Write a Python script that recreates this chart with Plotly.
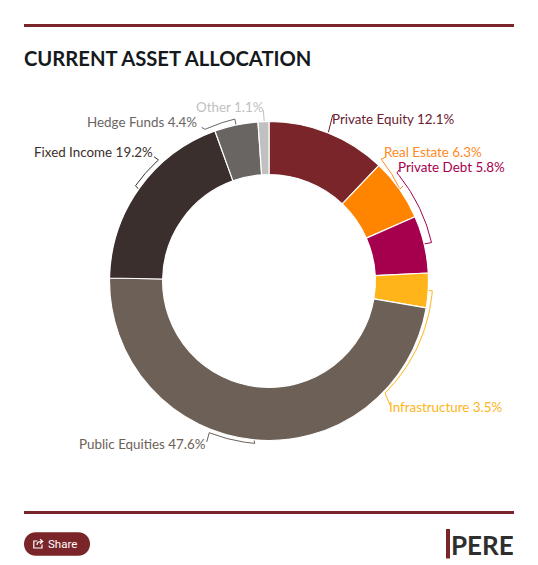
import math
import plotly.graph_objects as go

# Asset allocation shares, in percent, clockwise from twelve o'clock
categories = ["Private Equity", "Real Estate", "Private Debt", "Infrastructure",
              "Public Equities", "Fixed Income", "Hedge Funds", "Other"]
shares = [12.1, 6.3, 5.8, 3.5, 47.6, 19.2, 4.4, 1.1]
colors = ["#7a2529", "#ff8500", "#a5004e", "#ffb41a",
          "#6d6056", "#3a2f2d", "#696563", "#c0c0c0"]
label_colors = ["#6b2030", "#ff8a1f", "#a5004e", "#ffb41a",
                "#6d6056", "#3a2f2d", "#696563", "#c0c0c0"]

W, H = 538, 565
CX, CY, R = 269, 281, 159.5
MAROON = "#7a2529"

# Label anchor (left edge, vertical middle) in page pixels
label_pos = [(332, 119), (384, 152), (398, 167), (389, 407),
             (79, 444), (34, 152), (86.5, 122), (196, 107)]

# Leaders around the ring: points before the arc, start angle and radius,
# end angle and radius, points after the arc
leaders = {
    "Real Estate": ([(386, 157)], 42.6, 165.6, 54.9, 160, [(403, 186)]),
    "Private Debt": ([(399, 170)], 49.8, 167.5, 76.7, 167, [(424, 244)]),
    "Infrastructure": ([(428.3, 290.7)], 93.4, 163.6, 134, 161.3, [(390, 405)]),
    "Public Equities": ([(206.7, 442)], 201.5, 163, 185, 163, [(254, 440)]),
    "Fixed Income": ([(154, 156.7)], 317.6, 164, 305.5, 164, [(139.5, 190)]),
    "Hedge Funds": ([(201.7, 127.3)], 337.1, 164.6, 348.1, 165.5, [(236, 125)]),
    "Private Equity": ([(332.7, 115)], None, None, None, None, [(328.3, 132.7)]),
    "Other": ([(263.3, 110)], None, None, None, None, [(264.3, 122)]),
}


def polar(angle, radius):
    a = math.radians(angle)
    return CX + radius * math.sin(a), CY - radius * math.cos(a)


def leader_points(head, a0, r0, a1, r1, tail):
    """Polyline for a leader, with an arc that follows the ring where one is given."""
    if a0 is None:
        return head + tail
    steps = 24
    arc = [polar(a0 + (a1 - a0) * i / steps, r0 + (r1 - r0) * i / steps) for i in range(steps + 1)]
    return head + arc + tail


fig = go.Figure()

fig.add_trace(go.Pie(
    labels=categories, values=shares, sort=False, direction="clockwise", rotation=0,
    hole=0.667, textinfo="none", showlegend=False,
    marker=dict(colors=colors, line=dict(color="#ffffff", width=1.2)),
    domain=dict(x=[(CX - R) / W, (CX + R) / W], y=[1 - (CY + R) / H, 1 - (CY - R) / H]),
))

for name, spec in leaders.items():
    pts = leader_points(*spec)
    fig.add_trace(go.Scatter(
        x=[p[0] for p in pts], y=[p[1] for p in pts], mode="lines",
        line=dict(color=label_colors[categories.index(name)], width=1),
        hoverinfo="skip", showlegend=False,
    ))

annotations = [
    dict(x=lx - 2, y=ly, xref="x", yref="y", xanchor="left", yanchor="middle", showarrow=False,
         text=f"{name} {value}%", font=dict(family="Lato", size=13.4, color=col))
    for name, value, col, (lx, ly) in zip(categories, shares, label_colors, label_pos)
]
annotations += [
    dict(x=22, y=58, xref="x", yref="y", xanchor="left", yanchor="middle", showarrow=False,
         text="<b>CURRENT ASSET ALLOCATION</b>",
         font=dict(family="Lato", size=20.2, color="#15191c")),
    dict(x=46.3, y=544, xref="x", yref="y", xanchor="left", yanchor="middle", showarrow=False,
         text="Share", font=dict(family="Roboto", size=11.5, color="#ffffff")),
    dict(x=516, y=544.5, xref="x", yref="y", xanchor="right", yanchor="middle", showarrow=False,
         text="<b>PERE</b>", font=dict(family="Lato", size=26, color="#2e2e2e")),
]

shapes = [
    dict(type="rect", x0=24, x1=514, y0=24, y1=27, xref="x", yref="y",
         fillcolor=MAROON, line_width=0),
    dict(type="rect", x0=24, x1=514, y0=511, y1=514, xref="x", yref="y",
         fillcolor=MAROON, line_width=0),
    dict(type="rect", x0=446, x1=450, y0=529, y1=558.5, xref="x", yref="y",
         fillcolor=MAROON, line_width=0),
    # Share button pill
    dict(type="path", xref="x", yref="y", fillcolor=MAROON, line_width=0,
         path="M36,532.3 L78,532.3 C94,532.3 94,555.7 78,555.7 L36,555.7 C20,555.7 20,532.3 36,532.3 Z"),
    # Share icon: open box and arrow
    dict(type="path", xref="x", yref="y", line=dict(color="#ffffff", width=1.2),
         path="M37.5,541 L33.8,541 L33.8,548 L42,548 L42,544.5"),
    dict(type="path", xref="x", yref="y", line=dict(color="#ffffff", width=1.2),
         path="M37,545 C37,541.5 39,541.5 42,541.5 M40,539.3 L42.7,541.5 L40,543.7"),
]

fig.update_layout(
    width=W, height=H, autosize=False, margin=dict(l=0, r=0, t=0, b=0),
    paper_bgcolor="#ffffff", plot_bgcolor="#ffffff", showlegend=False,
    xaxis=dict(range=[0, W], visible=False, fixedrange=True),
    yaxis=dict(range=[H, 0], visible=False, fixedrange=True),
    annotations=annotations, shapes=shapes,
)

fig.write_html("out.html", config=dict(displayModeBar=False))
